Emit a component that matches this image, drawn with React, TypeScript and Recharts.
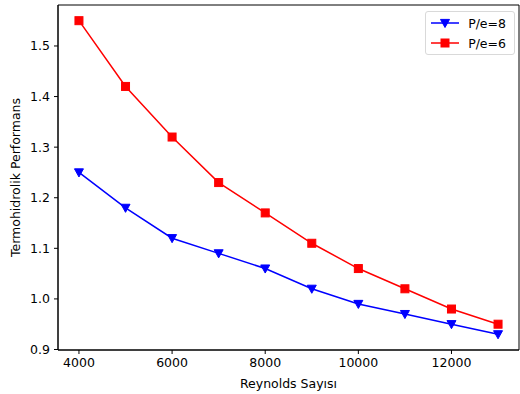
import React from 'react'
import {
  LineChart,
  Line,
  XAxis,
  YAxis,
  ReferenceArea,
} from 'recharts'

// ─── Data ────────────────────────────────────────────────────────────────────

const REYNOLDS = [4000, 5000, 6000, 7000, 8000, 9000, 10000, 11000, 12000, 13000]
const PE8 = [1.25, 1.18, 1.12, 1.09, 1.06, 1.02, 0.99, 0.97, 0.95, 0.93]
const PE6 = [1.55, 1.42, 1.32, 1.23, 1.17, 1.11, 1.06, 1.02, 0.98, 0.95]
const X_TICKS = [4000, 6000, 8000, 10000, 12000]
const Y_TICKS = [0.9, 1.0, 1.1, 1.2, 1.3, 1.4, 1.5]

const data = REYNOLDS.map((re, i) => ({ re, pe8: PE8[i], pe6: PE6[i] }))

const X_DOMAIN: [number, number] = [3550, 13450]
const Y_DOMAIN: [number, number] = [0.899, 1.581]

const FONT = '"DejaVu Sans", sans-serif'

// ─── Markers ─────────────────────────────────────────────────────────────────

function TriangleDown({ cx, cy, color }: { cx?: number; cy?: number; color: string }) {
  if (cx == null || cy == null) return null
  const s = 4.5
  return (
    <path
      d={`M${cx - s},${cy - s * 0.8} L${cx + s},${cy - s * 0.8} L${cx},${cy + s} Z`}
      fill={color}
      stroke={color}
    />
  )
}

function Square({ cx, cy, color }: { cx?: number; cy?: number; color: string }) {
  if (cx == null || cy == null) return null
  const s = 4
  return <rect x={cx - s} y={cy - s} width={s * 2} height={s * 2} fill={color} stroke={color} />
}

// ─── Legend ──────────────────────────────────────────────────────────────────

function MplLegend() {
  const rows = [
    { label: 'P/e=8', color: '#0000ff', marker: 'tri' },
    { label: 'P/e=6', color: '#ff0000', marker: 'sq' },
  ]
  return (
    <div
      style={{
        position: 'absolute',
        top: 11,
        right: 5,
        border: '1px solid #d9d9d9',
        borderRadius: 3,
        background: 'rgba(255,255,255,0.8)',
        padding: '1px 8px 1px 4px',
        fontFamily: FONT,
        fontSize: 12.5,
        color: '#000',
      }}
    >
      {rows.map(r => (
        <div key={r.label} style={{ display: 'flex', alignItems: 'center', height: 20 }}>
          <svg width={30} height={14} style={{ marginRight: 8 }}>
            <line x1={1} y1={7} x2={29} y2={7} stroke={r.color} strokeWidth={1.5} />
            {r.marker === 'tri' ? <TriangleDown cx={15} cy={7} color={r.color} /> : <Square cx={15} cy={7} color={r.color} />}
          </svg>
          <span>{r.label}</span>
        </div>
      ))}
    </div>
  )
}

// ─── Main Component ──────────────────────────────────────────────────────────

export default function App() {
  const tick = { fontSize: 12.5, fill: '#000', fontFamily: FONT }
  return (
    <div style={{ position: 'absolute', left: 0, top: 0, width: 520, height: 394, background: '#fff' }}>
      <LineChart
        width={520}
        height={394}
        data={data}
        margin={{ top: 5, right: 1, bottom: 0, left: 0 }}
      >
        <XAxis
          dataKey="re"
          type="number"
          domain={X_DOMAIN}
          ticks={X_TICKS}
          allowDataOverflow
          height={44}
          tick={tick}
          tickLine={{ stroke: '#000' }}
          axisLine={{ stroke: '#000' }}
          tickSize={4}
          tickMargin={4}
          label={{ value: 'Reynolds Sayısı', position: 'insideBottom', offset: 6, style: { ...tick, textAnchor: 'middle' } }}
        />
        <YAxis
          type="number"
          domain={Y_DOMAIN}
          ticks={Y_TICKS}
          allowDataOverflow
          width={58}
          tick={tick}
          tickFormatter={(v: number) => v.toFixed(1)}
          tickLine={{ stroke: '#000' }}
          axisLine={{ stroke: '#000' }}
          tickSize={4}
          tickMargin={4}
          label={{
            value: 'Termohidrolik Performans',
            angle: -90,
            position: 'insideLeft',
            offset: 16,
            style: { ...tick, textAnchor: 'middle' },
          }}
        />
        <ReferenceArea
          x1={X_DOMAIN[0]}
          x2={X_DOMAIN[1]}
          y1={Y_DOMAIN[0]}
          y2={Y_DOMAIN[1]}
          fill="none"
          stroke="#000"
          strokeWidth={1}
          fillOpacity={0}
        />
        <Line
          dataKey="pe8"
          stroke="#0000ff"
          strokeWidth={1.5}
          dot={(p: any) => <TriangleDown key={`t-${p.index}`} cx={p.cx} cy={p.cy} color="#0000ff" />}
          activeDot={false}
          isAnimationActive={false}
        />
        <Line
          dataKey="pe6"
          stroke="#ff0000"
          strokeWidth={1.5}
          dot={(p: any) => <Square key={`s-${p.index}`} cx={p.cx} cy={p.cy} color="#ff0000" />}
          activeDot={false}
          isAnimationActive={false}
        />
      </LineChart>
      <MplLegend />
    </div>
  )
}
